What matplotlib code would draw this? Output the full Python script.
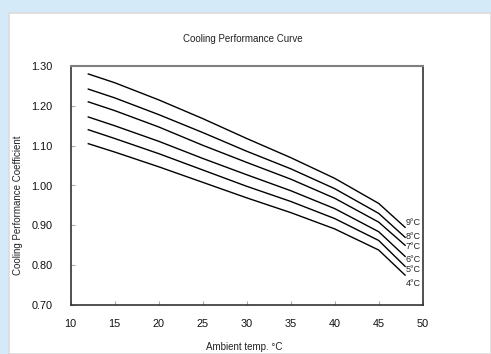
import matplotlib
matplotlib.use("Agg")
import matplotlib.pyplot as plt
from matplotlib.patches import Rectangle

plt.rcParams['font.family'] = ['Liberation Sans', 'DejaVu Sans']

# Data
temps = [12, 15, 20, 25, 30, 35, 40, 45, 48]
series_labels = ["9°C", "8°C", "7°C", "6°C", "5°C", "4°C"]
c9 = [1.280, 1.258, 1.215, 1.168, 1.118, 1.070, 1.018, 0.955, 0.895]
c8 = [1.242, 1.220, 1.178, 1.133, 1.086, 1.042, 0.992, 0.930, 0.870]
c7 = [1.210, 1.188, 1.147, 1.101, 1.058, 1.016, 0.968, 0.908, 0.850]
c6 = [1.172, 1.150, 1.111, 1.068, 1.027, 0.987, 0.942, 0.884, 0.822]
c5 = [1.140, 1.118, 1.080, 1.039, 0.998, 0.960, 0.917, 0.862, 0.797]
c4 = [1.105, 1.084, 1.047, 1.008, 0.969, 0.932, 0.891, 0.838, 0.775]
series = [c9, c8, c7, c6, c5, c4]
label_y = [0.906, 0.873, 0.846, 0.815, 0.788, 0.753]

xticks = [10, 15, 20, 25, 30, 35, 40, 45, 50]
yticks = [0.70, 0.80, 0.90, 1.00, 1.10, 1.20, 1.30]

W, H = 491, 354
fig = plt.figure(figsize=(W / 100, H / 100), dpi=100)
fig.patch.set_facecolor('#d5eaf8')
# white panel
fig.patches.append(Rectangle((9 / W, 0), 1 - 9 / W, 1 - 13 / H, transform=fig.transFigure,
                             facecolor='white', edgecolor='#dcdcdc', linewidth=1.2, zorder=-5))

left, right, top, bottom = 70.7, 422.7, 66, 305
ax = fig.add_axes([left / W, 1 - bottom / H, (right - left) / W, (bottom - top) / H])
ax.set_zorder(2)
ax.set_facecolor('white')

for vals in series:
    ax.plot(temps, vals, color='black', linewidth=1.0)
for lab, ly in zip(series_labels, label_y):
    ax.text(48.1, ly, lab, fontsize=6.5, color='#222222', ha='left', va='center')

ax.set_xlim(10, 50)
ax.set_ylim(0.70, 1.30)
ax.set_xticks(xticks)
ax.set_xticklabels([str(t) for t in xticks])
ax.set_yticks(yticks)
ax.set_yticklabels([f"{t:.2f}" for t in yticks])
ax.tick_params(axis='both', direction='in', length=3, color='#aaaaaa', labelsize=7.8,
               labelcolor='#111111')
ax.tick_params(axis='y', pad=13)
ax.tick_params(axis='x', pad=10)
for s in ['left', 'bottom', 'right']:
    ax.spines[s].set_color('#333333')
    ax.spines[s].set_linewidth(1.2)
ax.spines['top'].set_color('#808080')
ax.spines['top'].set_linewidth(1.5)

fig.text(243 / W, 1 - 39.5 / H, "Cooling Performance Curve", fontsize=7, ha='center', va='center',
         color='#222222')
fig.text(244 / W, 1 - 347.5 / H, "Ambient temp. °C", fontsize=7, ha='center', va='center',
         color='#222222')
fig.text(18 / W, 1 - 205 / H, "Cooling Performance Coefficient", fontsize=7, rotation=90,
         ha='center', va='center', color='#222222')

fig.savefig("out.png", dpi=100, facecolor=fig.get_facecolor())
